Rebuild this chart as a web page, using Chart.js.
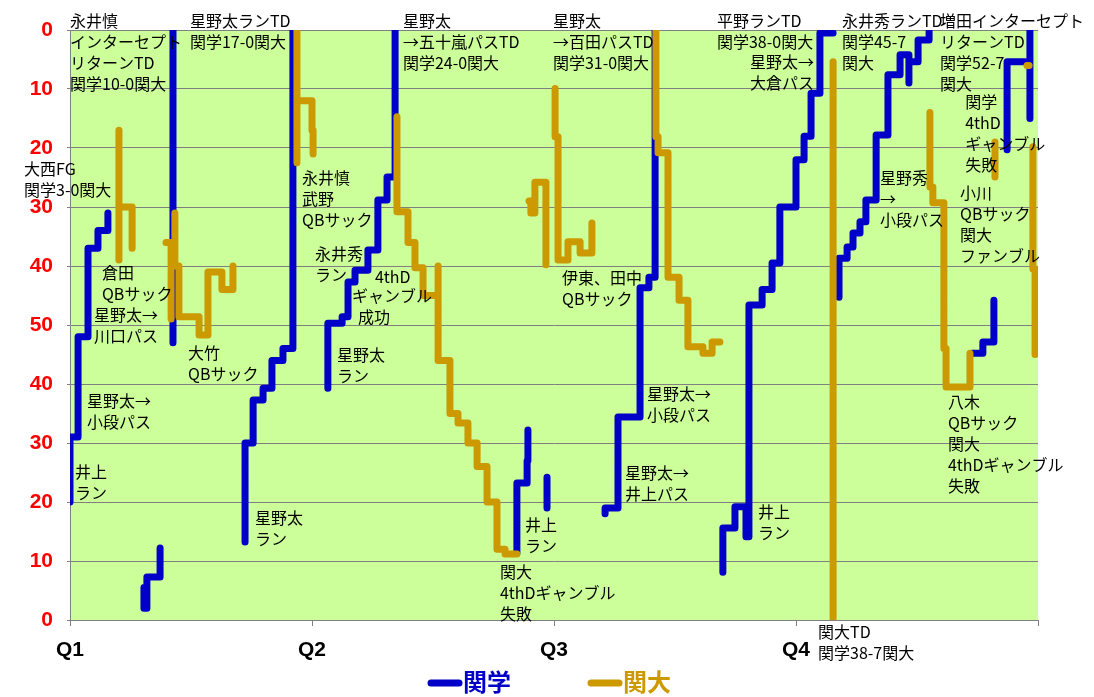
<!DOCTYPE html>
<html>
<head>
<meta charset="utf-8">
<script src="https://cdn.jsdelivr.net/npm/chart.js@4"></script>
<style>
  html, body { margin: 0; padding: 0; background: #ffffff; }
  #wrap { width: 1094px; height: 697px; }
</style>
</head>
<body>
<div id="wrap"><canvas id="grafico"></canvas></div>
<script>
// ======================= DATA =======================
// time = game seconds elapsed (0-3600), yard = ball position (0 = bottom goal line, 100 = top goal line)
// null separates drives

const quarterLabels = ["Q1", "Q2", "Q3", "Q4"];

// 関学 (blue)
const kgTime = [
  0, 0, 30, 67, 104, 141, null,
  275, 275, 286, 335, null,
  383, 383, null,
  651, 651, 681, 718, 751, 792, 829, null,
  959, 959, 1012, 1034, 1060, 1108, 1145, 1179, 1209, null,
  1662, 1662, 1700, 1703, null,
  1774, 1774, null,
  1990, 1990, 2038, 2120, 2153, 2176, null,
  2428, 2428, 2473, 2514, 2525, 2574, 2611, 2640, 2700, 2730, 2756, 2789, 2838, null,
  2860, 2860, 2890, 2912, 2938, 2960, 2998, 3042, 3087, 3120, 3120, 3154, 3195, null,
  3355, 3395, 3436, null,
  3485, 3485, 3552, null,
  3570, 3570
];
const kgYard = [
  20, 31, 48, 63, 66, 69, null,
  5.5, 2, 7.3, 12.2, null,
  47, 100, null,
  13.2, 30, 37.3, 39.3, 44, 46, 100, null,
  39.3, 50.3, 51.4, 57.3, 59.3, 62.7, 71.2, 75.1, 100, null,
  11.3, 23.2, 27, 32.2, null,
  24.2, 19, null,
  18, 19, 34.4, 56.3, 58.1, 100, null,
  8.1, 15.6, 19.2, 14.1, 53.4, 56, 60.5, 70, 78, 82, 89.3, 99.5, 99.5, null,
  54.7, 61.3, 63.2, 65.6, 67.5, 71.2, 82.2, 92.4, 95.8, 91, 94.6, 98.3, 100, null,
  45.2, 47.1, 54.2, null,
  79.7, 94.6, 94.6, null,
  85, 100
];

// 関大 (gold)
const kdTime = [
  182, 182, 182, 231, null,
  357, 376, null,
  390, 390, 405, 480, 513, 565, 606, null,
  844, 844, 844, 900, 904, null,
  1216, 1216, 1257, 1283, 1313, 1369, 1369, 1413, 1443, 1480, 1514, 1551, 1588, 1618, 1662, null,
  1707, 1714, 1729, 1770, null,
  1804, 1804, 1815, 1852, 1897, 1941, null,
  2179, 2179, 2187, 2224, 2265, 2298, 2354, 2388, 2417, null,
  2838, 2838, null,
  3198, 3198, 3209, 3250, 3258, 3347, null,
  3440, 3440, null,
  3559, 3567, null,
  3581, 3581, 3589
];
const kdYard = [
  83, 61, 70, 63, null,
  64, 51, null,
  69, 60, 51.4, 48.3, 59, 56, 60, null,
  100, 77.5, 88, 83, 79, null,
  85.3, 69.2, 64, 59.7, 55, 60, 44, 35, 33.4, 30, 26, 20, 12, 11.2, 11.2, null,
  71, 69, 74.2, 60.2, null,
  90.1, 81.9, 61, 64.1, 62.2, 67.3, null,
  100, 81.9, 79.2, 58.1, 54.2, 46.3, 45.2, 47.1, 47.1, null,
  94.6, 0, null,
  86, 73.4, 70.7, 46, 39.5, 45.2, null,
  81, 75.1, null,
  94, 94, null,
  80.2, 59.5, 45
];

// play notes: [time, yard, lines]
const notes = [
  [0, 101.5, ["永井慎", "インターセプト", "リターンTD", "関学10-0関大"]],
  [446, 101.5, ["星野太ランTD", "関学17-0関大"]],
  [-171, 76.4, ["大西FG", "関学3-0関大"]],
  [119, 58.8, ["倉田", "QBサック"]],
  [89, 51.7, ["星野太→", "川口パス"]],
  [439, 45.3, ["大竹", "QBサック"]],
  [63, 37.1, ["星野太→", "小段パス"]],
  [19, 25.1, ["井上", "ラン"]],
  [688, 17.3, ["星野太", "ラン"]],
  [863, 74.9, ["永井慎", "武野", "QBサック"]],
  [911, 62, ["永井秀", "ラン"]],
  [1134, 58.1, ["4thD"]],
  [1049, 54.9, ["ギャンブル"]],
  [1071, 51.4, ["成功"]],
  [993, 44.9, ["星野太", "ラン"]],
  [1238, 101.5, ["星野太", "→五十嵐パスTD", "関学24-0関大"]],
  [1692, 16.1, ["井上", "ラン"]],
  [1599, 8.1, ["関大", "4thDギャンブル", "失敗"]],
  [1796, 101.5, ["星野太", "→百田パスTD", "関学31-0関大"]],
  [1830, 58, ["伊東、田中", "QBサック"]],
  [2146, 38.3, ["星野太→", "小段パス"]],
  [2064, 24.9, ["星野太→", "井上パス"]],
  [2559, 18.3, ["井上", "ラン"]],
  [2406, 101.5, ["平野ランTD", "関学38-0関大"]],
  [2529, 94.6, ["星野太→", "大倉パス"]],
  [2782, -2.0, ["関大TD", "関学38-7関大"]],
  [2871, 101.5, ["永井秀ランTD", "関学45-7", "関大"]],
  [3236, 101.5, ["増田インターセプト", "リターンTD", "関学52-7", "関大"]],
  [3329, 87.8, ["関学", "4thD", "ギャンブル", "失敗"]],
  [3012, 74.9, ["星野秀", "→", "小段パス"]],
  [3310, 72.4, ["小川", "QBサック", "関大", "ファンブル"]],
  [3265, 36.9, ["八木", "QBサック", "関大", "4thDギャンブル", "失敗"]]
];

const toPoints = (times, yards) => {
  let last = 0;
  return times.map((t, i) => {
    if (t !== null) last = t;
    return { x: last, y: yards[i] };
  });
};

const blue = "rgb(0, 0, 200)";
const gold = "rgb(204, 153, 0)";

// ======================= PLUGINS =======================
const plotBackground = {
  id: "plotBackground",
  beforeDraw(chart) {
    const { ctx, chartArea: a } = chart;
    ctx.save();
    ctx.fillStyle = "#CCFF99";
    ctx.fillRect(a.left, a.top, a.right - a.left, a.bottom - a.top);
    ctx.restore();
  },
};

const playNotes = {
  id: "playNotes",
  afterDatasetsDraw(chart) {
    const { ctx, scales } = chart;
    ctx.save();
    ctx.fillStyle = "#000";
    ctx.font = "16px 'Noto Sans CJK JP'";
    ctx.textBaseline = "middle";
    ctx.textAlign = "left";
    notes.forEach(([t, yd, lines]) => {
      const x = scales.x.getPixelForValue(t);
      const y = scales.y.getPixelForValue(yd);
      lines.forEach((s, i) => ctx.fillText(s, x, y + i * 21));
    });
    ctx.restore();
  },
};

const bottomLegend = {
  id: "bottomLegend",
  afterDraw(chart) {
    const { ctx } = chart;
    const items = [
      { text: "関学", color: blue, x: 431 },
      { text: "関大", color: gold, x: 591 },
    ];
    ctx.save();
    items.forEach((it) => {
      ctx.strokeStyle = it.color;
      ctx.lineWidth = 7;
      ctx.lineCap = "round";
      ctx.beginPath();
      ctx.moveTo(it.x, 683);
      ctx.lineTo(it.x + 28, 683);
      ctx.stroke();
      ctx.fillStyle = it.color;
      ctx.font = "bold 24px 'Noto Sans CJK JP'";
      ctx.textBaseline = "middle";
      ctx.fillText(it.text, it.x + 32, 682);
    });
    ctx.restore();
  },
};

// ======================= CHART =======================
const config = {
  type: "line",
  data: {
    datasets: [
      {
        label: "関学",
        data: toPoints(kgTime, kgYard),
        borderColor: blue,
        backgroundColor: blue,
        borderWidth: 7,
        borderCapStyle: "round",
        borderJoinStyle: "round",
        stepped: true,
        order: 2,
      },
      {
        label: "関大",
        data: toPoints(kdTime, kdYard),
        borderColor: gold,
        backgroundColor: gold,
        borderWidth: 7,
        borderCapStyle: "round",
        borderJoinStyle: "round",
        stepped: true,
        order: 1,
      },
    ],
  },
  options: {
    responsive: true,
    maintainAspectRatio: false,
    animation: false,
    spanGaps: false,
    layout: { padding: { left: 0, top: 30, right: 56, bottom: 0 } },
    elements: {
      point: { radius: 0, hoverRadius: 0 },
      line: { tension: 0 },
    },
    plugins: {
      legend: { display: false },
      tooltip: { enabled: false },
    },
    scales: {
      x: {
        type: "linear",
        min: 0,
        max: 3600,
        afterBuildTicks: (s) => {
          s.ticks = [0, 900, 1800, 2700, 3600].map((v) => ({ value: v }));
        },
        afterFit: (s) => {
          s.height = 77;
        },
        ticks: {
          autoSkip: false,
          maxRotation: 0,
          padding: 12,
          color: "#000",
          font: { family: "'Liberation Sans', Arial", size: 21, weight: "bold" },
          callback: (v) => quarterLabels[v / 900] || "",
        },
        grid: { drawOnChartArea: false, color: "#808080", tickLength: 6 },
        border: { color: "#808080" },
      },
      y: {
        min: 0,
        max: 100,
        afterBuildTicks: (s) => {
          s.ticks = [0, 10, 20, 30, 40, 50, 60, 70, 80, 90, 100].map((v) => ({ value: v }));
        },
        afterFit: (s) => {
          s.width = 70;
        },
        ticks: {
          padding: 14,
          color: "#FF0000",
          font: { family: "'Liberation Sans', Arial", size: 21, weight: "bold" },
          callback: (v) => (v <= 50 ? v : 100 - v),
        },
        grid: { color: "#808080", tickLength: 3 },
        border: { color: "#808080" },
      },
    },
  },
  plugins: [plotBackground, playNotes, bottomLegend],
};

const grafico = new Chart(document.getElementById("grafico"), config);
</script>
</body>
</html>
